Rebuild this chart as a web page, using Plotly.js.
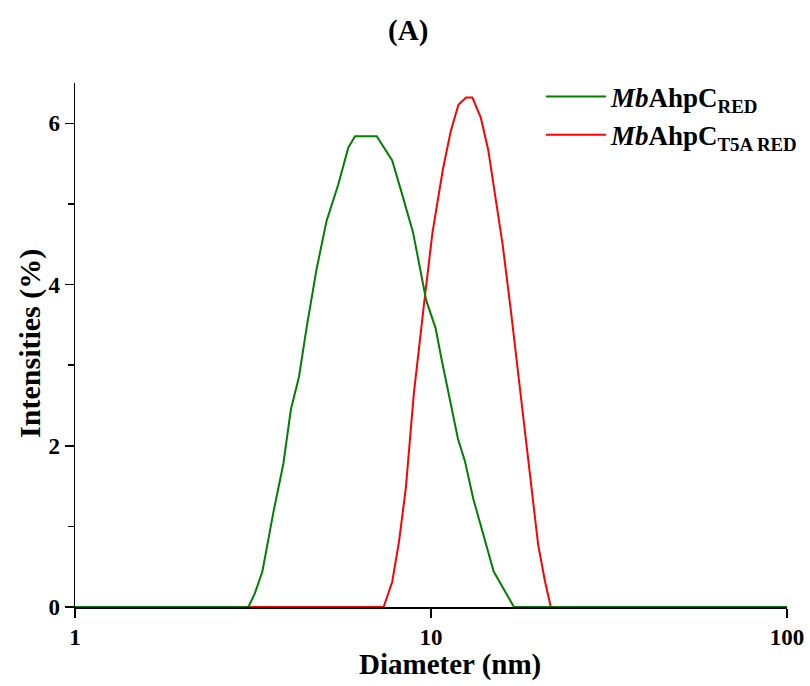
<!DOCTYPE html>
<html>
<head>
<meta charset="utf-8">
<script src="https://cdn.plot.ly/plotly-3.0.1.min.js"></script>
<style>html,body{margin:0;padding:0;background:#fff;}#chart{width:810px;height:686px;}</style>
</head>
<body>
<div id="chart"></div>
<script>
// Green series: MbAhpC RED
const greenDiameter = [1, 3.07, 3.20, 3.36, 3.61, 3.85, 4.04, 4.26, 4.47, 4.77, 5.09, 5.49, 5.86, 6.12, 7.04, 7.78, 8.27, 8.90, 9.70, 10.3, 10.7, 11.9, 12.45, 13.15, 15.0, 17.1, 100];
const greenIntensity = [0, 0, 0.17, 0.44, 1.18, 1.78, 2.45, 2.86, 3.46, 4.19, 4.79, 5.24, 5.70, 5.84, 5.84, 5.54, 5.14, 4.65, 3.80, 3.46, 3.08, 2.09, 1.81, 1.34, 0.44, 0, 0];
// Red series: MbAhpC T5A RED
const redDiameter = [1, 7.36, 7.78, 8.13, 8.5, 8.95, 9.6, 10.1, 10.8, 11.36, 11.94, 12.55, 13.07, 13.8, 14.48, 15.1, 15.9, 16.8, 17.6, 19.0, 20.0, 20.9, 21.7, 100];
const redIntensity = [0, 0, 0.31, 0.81, 1.48, 2.65, 3.83, 4.65, 5.43, 5.90, 6.23, 6.32, 6.32, 6.07, 5.67, 5.14, 4.49, 3.64, 2.87, 1.58, 0.77, 0.32, 0, 0];
const xTicks = [1, 10, 100];
const xTickText = ['1', '10', '100'];
const yTicks = [0, 2, 4, 6];

const serif = 'Liberation Serif, Times New Roman, serif';

const traces = [
  {x: redDiameter, y: redIntensity, type: 'scatter', mode: 'lines',
   name: '<b><i>Mb</i>AhpC<sub>T5A RED</sub></b>', legendrank: 2,
   line: {color: '#ff0000', width: 2}},
  {x: greenDiameter, y: greenIntensity, type: 'scatter', mode: 'lines',
   name: '<b><i>Mb</i>AhpC<sub>RED</sub></b>', legendrank: 1,
   line: {color: '#008000', width: 2}}
];

const layout = {
  width: 810, height: 686,
  margin: {l: 75, r: 2, t: 83, b: 79},
  paper_bgcolor: '#fff', plot_bgcolor: '#fff',
  title: {text: '<b>(A)</b>', x: 0.504, xanchor: 'center', y: 0.957, yanchor: 'middle',
          font: {family: serif, size: 29, color: '#000'}},
  showlegend: true,
  legend: {x: 0.6357, y: 1.02, xanchor: 'left', yanchor: 'top',
           bgcolor: 'rgba(0,0,0,0)', borderwidth: 0,
           font: {family: serif, size: 27, color: '#000'}, tracegroupgap: 0, itemwidth: 60},
  xaxis: {
    type: 'log', range: [0, 2], domain: [0, 0.97135], tickvals: xTicks, ticktext: xTickText, automargin: false,
    showgrid: false, zeroline: false, showline: true, linecolor: '#000', linewidth: 1.5,
    ticks: 'outside', ticklen: 9, tickwidth: 1.5, tickcolor: '#000',
    tickfont: {family: serif, size: 23, color: '#000', weight: 'bold'}
  },
  yaxis: {
    range: [0, 6.5], tickvals: yTicks, automargin: false,
    showgrid: false, zeroline: false, showline: true, linecolor: '#000', linewidth: 1.5,
    ticks: 'outside', ticklen: 9, tickwidth: 1.5, tickcolor: '#000',
    minor: {tickvals: [1, 3, 5], ticks: 'outside', ticklen: 6, tickwidth: 1.5, tickcolor: '#000', showgrid: false},
    tickfont: {family: serif, size: 23, color: '#000', weight: 'bold'}
  },
  annotations: [
    {text: '<b>Diameter (nm)</b>', xref: 'paper', yref: 'paper', x: 0.5116, y: 0,
     xanchor: 'center', yanchor: 'middle', yshift: -57, showarrow: false,
     font: {family: serif, size: 29, color: '#000'}},
    {text: '<b>Intensities (%)</b>', xref: 'paper', yref: 'paper', x: -0.0614, y: 0.504,
     xanchor: 'center', yanchor: 'middle', textangle: -90, showarrow: false,
     font: {family: serif, size: 30, color: '#000'}}
  ]
};

Plotly.newPlot('chart', traces, layout, {displayModeBar: false, staticPlot: true});
</script>
</body>
</html>
